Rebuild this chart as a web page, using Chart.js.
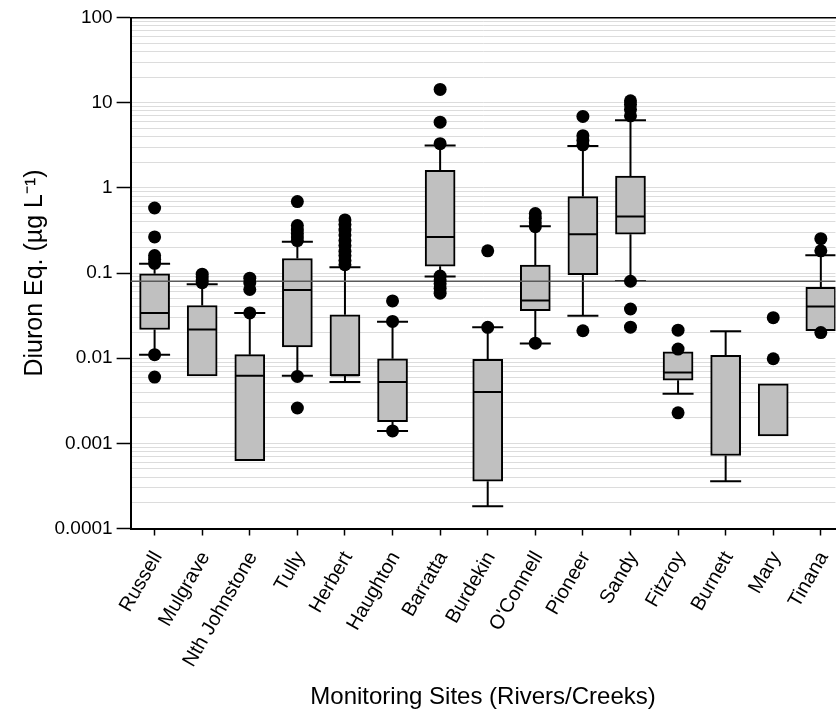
<!DOCTYPE html>
<html lang="en">
<head>
  <meta charset="UTF-8">
  <title>Diuron Eq. by monitoring site</title>
  <script src="https://cdn.jsdelivr.net/npm/chart.js"></script>
  <style>
    body {
      margin: 0;
      overflow: hidden;
      background: #fff;
    }
    /* a bit wider than the window: the plot runs off the right edge like the original */
    .wrap {
      position: relative;
      width: 854px;
      height: 715px;
    }
  </style>
</head>
<body>
  <div class="wrap"><canvas id="chart"></canvas></div>

  <script>
    // sites, left to right
    const sites = ['Russell', 'Mulgrave', 'Nth Johnstone', 'Tully', 'Herbert', 'Haughton', 'Barratta',
      'Burdekin', "O'Connell", 'Pioneer', 'Sandy', 'Fitzroy', 'Burnett', 'Mary', 'Tinana'];

    // box plot values (µg/L); null = not drawn
    const q3 = [0.098, 0.0415, 0.011, 0.148, 0.0323, 0.00985, 1.61, 0.00966, 0.124, 0.79, 1.37, 0.0119, 0.0108, 0.0050, 0.0678];
    const median = [0.0338, 0.0217, 0.0062, 0.063, 0.0063, 0.00525, 0.265, 0.0040, 0.0476, 0.285, 0.461, 0.0068, null, null, 0.0403];
    const q1 = [0.0217, 0.0062, 0.000627, 0.0136, 0.0062, 0.0018, 0.12, 0.00036, 0.036, 0.0955, 0.285, 0.0055, 0.00072, 0.00122, 0.021];
    const whiskerHi = [0.1285, 0.0737, 0.0338, 0.233, 0.117, 0.0268, 3.15, 0.0231, 0.353, 3.1, 6.2, null, 0.0207, null, 0.162];
    const whiskerLo = [0.011, null, null, 0.0062, 0.00525, 0.0014, 0.091, 0.000183, 0.0149, 0.0314, 0.0807, 0.00382, 0.00036, null, null];

    const outliers = [
      [0.58, 0.265, 0.16, 0.145, 0.13, 0.011, 0.006],
      [0.097, 0.09, 0.083, 0.077],
      [0.087, 0.077, 0.064, 0.034],
      [0.69, 0.36, 0.32, 0.29, 0.265, 0.24, 0.0061, 0.0026],
      [0.42, 0.37, 0.32, 0.28, 0.24, 0.21, 0.18, 0.16, 0.14, 0.125],
      [0.047, 0.027, 0.0014],
      [14.3, 5.9, 3.3, 0.092, 0.083, 0.075, 0.066, 0.058],
      [0.182, 0.023],
      [0.5, 0.44, 0.39, 0.35, 0.015],
      [6.9, 4.1, 3.6, 3.2, 0.021],
      [10.5, 9.5, 8.3, 7.0, 0.08, 0.0378, 0.0231],
      [0.0213, 0.0128, 0.00228],
      [],
      [0.0299, 0.00985],
      [0.253, 0.182, 0.020]
    ];

    // horizontal guideline
    const guideValue = 0.08;

    const yDecades = [0.0001, 0.001, 0.01, 0.1, 1, 10, 100];
    const yTickLabels = ['0.0001', '0.001', '0.01', '0.1', '1', '10', '100'];

    const xMin = -0.504;
    const xMax = 14.307;

    // build datasets
    const boxData = sites.map((s, i) => ({ x: i, y: [q1[i], q3[i]] }));
    const medianData = [];
    median.forEach((m, i) => { if (m !== null) medianData.push({ x: i, y: m }); });

    const whiskerData = [];
    const capData = [];
    sites.forEach((s, i) => {
      if (whiskerHi[i] !== null) {
        whiskerData.push({ x: i, y: q3[i] }, { x: i, y: whiskerHi[i] }, { x: i, y: null });
        capData.push({ x: i, y: whiskerHi[i] });
      }
      if (whiskerLo[i] !== null) {
        whiskerData.push({ x: i, y: q1[i] }, { x: i, y: whiskerLo[i] }, { x: i, y: null });
        capData.push({ x: i, y: whiskerLo[i] });
      }
    });

    const outlierData = [];
    outliers.forEach((arr, i) => arr.forEach(v => outlierData.push({ x: i, y: v })));

    Chart.defaults.font.family = "'Liberation Sans', Arial, sans-serif";
    Chart.defaults.color = '#000';

    const isDecade = v => yDecades.some(d => Math.abs(Math.log10(v) - Math.log10(d)) < 1e-6);

    new Chart(document.getElementById('chart'), {
      data: {
        datasets: [
          {
            type: 'scatter',
            data: outlierData,
            pointRadius: 6.5,
            pointBackgroundColor: '#000',
            pointBorderColor: '#000',
            pointBorderWidth: 0,
            order: 0
          },
          {
            type: 'line',
            data: [{ x: -1, y: guideValue }, { x: 15, y: guideValue }],
            borderColor: '#5a5a5a',
            borderWidth: 1.5,
            pointRadius: 0,
            order: 1
          },
          {
            type: 'scatter',
            data: medianData,
            pointStyle: 'line',
            pointRadius: 14,
            pointBorderWidth: 2,
            pointBorderColor: '#000',
            order: 2
          },
          {
            type: 'scatter',
            data: capData,
            pointStyle: 'line',
            pointRadius: 15.5,
            pointBorderWidth: 2,
            pointBorderColor: '#000',
            order: 3
          },
          {
            type: 'bar',
            data: boxData,
            barThickness: 30,
            backgroundColor: '#c0c0c0',
            borderColor: '#000',
            borderWidth: 2,
            borderSkipped: false,
            order: 4
          },
          {
            type: 'line',
            data: whiskerData,
            borderColor: '#000',
            borderWidth: 2,
            pointRadius: 0,
            spanGaps: false,
            order: 5
          }
        ]
      },
      options: {
        responsive: true,
        maintainAspectRatio: false,
        animation: false,
        events: [],
        layout: { padding: { left: 20.5, top: 11, right: 0, bottom: 0 } },
        plugins: {
          legend: { display: false },
          tooltip: { enabled: false }
        },
        scales: {
          x: {
            type: 'linear',
            position: 'bottom',
            offset: false,
            min: xMin,
            max: xMax,
            afterBuildTicks: scale => { scale.ticks = sites.map((s, i) => ({ value: i })); },
            ticks: {
              autoSkip: false,
              minRotation: 60,
              maxRotation: 60,
              padding: 12,
              labelOffset: 3,
              font: { size: 20 },
              callback: v => sites[v]
            },
            grid: {
              offset: false,
              drawOnChartArea: false,
              drawTicks: true,
              tickLength: 7,
              tickWidth: 1.5,
              tickColor: '#000'
            },
            border: { color: '#000', width: 2 },
            title: {
              display: true,
              text: 'Monitoring Sites (Rivers/Creeks)',
              font: { size: 24 },
              padding: { top: 0, bottom: 3 }
            }
          },
          x2: {
            type: 'linear',
            position: 'top',
            offset: false,
            min: xMin,
            max: xMax,
            ticks: { display: false },
            grid: { display: false, drawTicks: false },
            border: { display: true, color: '#000', width: 1.5 }
          },
          y: {
            type: 'logarithmic',
            min: 0.0001,
            max: 100,
            afterBuildTicks: scale => {
              const t = [];
              for (let e = -4; e <= 1; e++) {
                for (let k = 1; k <= 9; k++) t.push({ value: k * Math.pow(10, e) });
              }
              t.push({ value: 100 });
              scale.ticks = t;
            },
            ticks: {
              autoSkip: false,
              padding: 4,
              font: { size: 19 },
              callback: v => {
                const idx = yDecades.findIndex(d => Math.abs(Math.log10(v) - Math.log10(d)) < 1e-6);
                return idx >= 0 ? yTickLabels[idx] : '';
              }
            },
            grid: {
              color: '#dcdcdc',
              lineWidth: 1,
              drawTicks: true,
              tickLength: 14,
              tickWidth: 1.5,
              tickColor: ctx => (ctx.tick && isDecade(ctx.tick.value)) ? '#000' : 'rgba(0,0,0,0)'
            },
            border: { color: '#000', width: 2 },
            title: {
              display: true,
              text: 'Diuron Eq. (\u00b5g L\u207b\u00b9)',
              font: { size: 25 },
              padding: { top: 0, bottom: 0 }
            }
          }
        }
      }
    });
  </script>
</body>
</html>
